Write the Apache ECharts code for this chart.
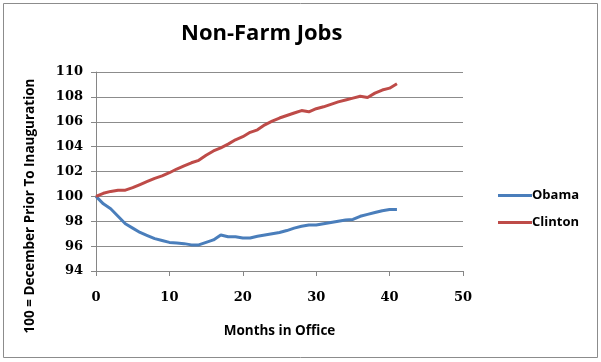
<!DOCTYPE html>
<html>
<head>
<meta charset="utf-8">
<script src="https://cdn.jsdelivr.net/npm/echarts@6/dist/echarts.min.js"></script>
<style>
html,body{margin:0;padding:0;background:#fff;}
#c{width:601px;height:362px;}
</style>
</head>
<body>
<div id="c"></div>
<script>
var months = [0,1,2,3,4,5,6,7,8,9,10,11,12,13,14,15,16,17,18,19,20,21,22,23,24,25,26,27,28,29,30,31,32,33,34,35,36,37,38,39,40,41];
var obama = [100,99.4,99.0,98.4,97.8,97.45,97.1,96.85,96.6,96.45,96.3,96.25,96.2,96.1,96.1,96.3,96.5,96.9,96.75,96.75,96.65,96.65,96.8,96.9,97.0,97.1,97.25,97.45,97.6,97.7,97.7,97.8,97.9,98.0,98.1,98.15,98.4,98.55,98.7,98.85,98.95,98.95];
var clinton = [100,100.25,100.4,100.5,100.5,100.7,100.95,101.2,101.45,101.65,101.9,102.2,102.45,102.7,102.9,103.3,103.65,103.9,104.2,104.55,104.8,105.15,105.35,105.75,106.05,106.3,106.5,106.7,106.9,106.8,107.05,107.2,107.4,107.6,107.75,107.9,108.05,107.95,108.3,108.55,108.7,109.05];
var seriesNames = ['Obama','Clinton'];
var xTicks = [0,10,20,30,40,50];
var yTicks = [94,96,98,100,102,104,106,108,110];
var yAxisTitle = '100 = December Prior To Inauguration';

function pairs(v){ return months.map(function(m,i){ return [m, v[i]]; }); }

var chart = echarts.init(document.getElementById('c'), null, {renderer:'canvas'});
var labelFont = {fontFamily:'"DejaVu Serif", serif', fontWeight:'bold', fontSize:13, color:'#000'};
chart.setOption({
  animation:false,
  backgroundColor:'#fff',
  graphic:[
    {type:'rect', shape:{x:3.5,y:3.5,width:594,height:354}, style:{fill:'none', stroke:'#8c8c8c', lineWidth:1}, z:-1},
    {type:'text', x:30, y:206, rotation:Math.PI/2, style:{text:yAxisTitle, fill:'#000', font:'bold 13.5px "Open Sans", sans-serif', textAlign:'center', textVerticalAlign:'middle'}}
  ],
  title:{text:'Non-Farm Jobs', left:176, top:18, textStyle:{fontFamily:'"Open Sans", sans-serif', fontWeight:'bold', fontSize:22, color:'#000'}},
  legend:{
    orient:'vertical', left:493, top:184, itemGap:14, itemWidth:34, itemHeight:3,
    icon:'rect',
    data:seriesNames,
    textStyle:{fontFamily:'"Open Sans", sans-serif', fontWeight:'bold', fontSize:13, color:'#000', padding:[0,0,0,-5]}
  },
  grid:{left:96, right:138, top:72, bottom:91},
  xAxis:{
    type:'value', min:xTicks[0], max:xTicks[xTicks.length-1], interval:10,
    name:'Months in Office', nameLocation:'middle', nameGap:53,
    nameTextStyle:{fontFamily:'"Open Sans", sans-serif', fontWeight:'bold', fontSize:13.5, color:'#000'},
    axisLine:{lineStyle:{color:'#868686'}},
    axisTick:{show:true, length:5, lineStyle:{color:'#868686'}},
    axisLabel:Object.assign({margin:20}, labelFont),
    splitLine:{show:false}
  },
  yAxis:{
    type:'value', min:yTicks[0], max:yTicks[yTicks.length-1], interval:2,
    axisLine:{show:true, lineStyle:{color:'#868686'}},
    axisTick:{show:true, length:5, lineStyle:{color:'#868686'}},
    axisLabel:Object.assign({margin:13}, labelFont),
    splitLine:{show:true, lineStyle:{color:'#8c8c8c', width:1}}
  },
  series:[
    {name:seriesNames[0], type:'line', data:pairs(obama), showSymbol:false, symbol:'none', lineStyle:{color:'#4a7ebb', width:3}, itemStyle:{color:'#4a7ebb'}},
    {name:seriesNames[1], type:'line', data:pairs(clinton), showSymbol:false, symbol:'none', lineStyle:{color:'#be4b48', width:3}, itemStyle:{color:'#be4b48'}}
  ]
});
</script>
</body>
</html>
